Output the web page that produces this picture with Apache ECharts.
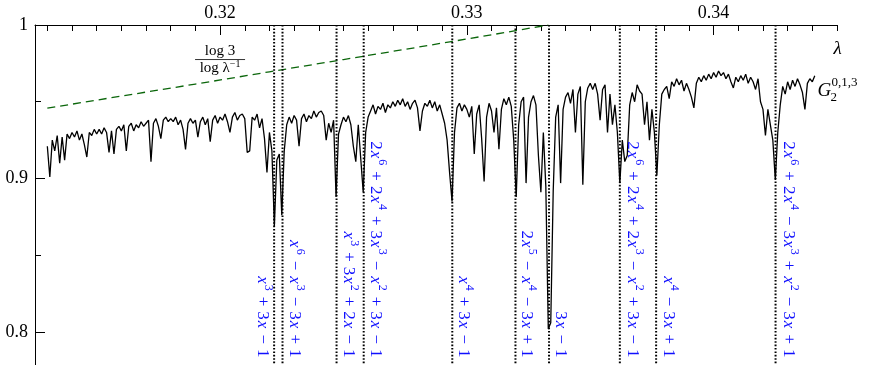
<!DOCTYPE html>
<html><head><meta charset="utf-8">
<script src="https://cdn.jsdelivr.net/npm/echarts@6/dist/echarts.min.js"></script>
<style>html,body{margin:0;padding:0;background:#fff}#c{width:870px;height:365px}</style>
</head><body><div id="c"></div>
<script>
// ---------- data ----------
const xMajorTicks = [0.32, 0.33, 0.34];
const xMinorTicks = [0.313,0.314,0.315,0.316,0.317,0.318,0.319,0.321,0.322,0.323,0.324,0.325,0.326,0.327,0.328,0.329,
  0.331,0.332,0.333,0.334,0.335,0.336,0.337,0.338,0.339,0.341,0.342,0.343,0.344,0.345];
const yMajorTicks = [0.8, 0.9, 1];
const yMinorTicks = [0.85, 0.95];

// dashed bound log3 / log(1/lambda)
const boundLambda = [0.313, 0.316, 0.319, 0.322, 0.325, 0.328, 0.331, 0.3333];
const boundValue  = [0.9458, 0.9537, 0.9615, 0.9695, 0.9775, 0.9855, 0.9936, 1.0];

// G_2^{0,1,3} curve [lambda, value]
const gData = [
[0.3130,0.921],[0.3131,0.901],[0.3132,0.925],[0.3133,0.918],[0.3134,0.928],[0.3135,0.910],[0.3136,0.927],[0.3137,0.912],[0.3138,0.929],[0.3139,0.926],[0.3140,0.930],
[0.3141,0.927],[0.3142,0.931],[0.3143,0.925],[0.3144,0.929],[0.3145,0.922],[0.3146,0.914],[0.3147,0.930],[0.3148,0.928],[0.3149,0.932],[0.3150,0.929],
[0.3151,0.932],[0.3152,0.929],[0.3153,0.933],[0.3154,0.930],[0.3155,0.917],[0.3156,0.931],[0.3157,0.916],[0.3158,0.932],[0.3159,0.934],[0.3160,0.931],
[0.3161,0.935],[0.3162,0.918],[0.3163,0.934],[0.3164,0.936],[0.3165,0.931],[0.3166,0.935],[0.3167,0.933],[0.3168,0.937],[0.3169,0.934],[0.3170,0.936],
[0.3171,0.938],[0.3172,0.911],[0.3173,0.936],[0.3174,0.939],[0.3175,0.934],[0.3176,0.926],[0.3177,0.938],[0.3178,0.940],[0.3179,0.937],[0.3180,0.939],
[0.3181,0.937],[0.3182,0.940],[0.3183,0.935],[0.3184,0.938],[0.3185,0.932],[0.3186,0.919],[0.3187,0.936],[0.3188,0.939],[0.3189,0.936],[0.3190,0.938],
[0.3191,0.927],[0.3192,0.937],[0.3193,0.940],[0.3194,0.935],[0.3195,0.939],[0.3196,0.924],[0.3197,0.938],[0.3198,0.941],[0.3199,0.936],[0.3200,0.940],
[0.3201,0.938],[0.3202,0.942],[0.3203,0.937],[0.3204,0.930],[0.3205,0.940],[0.3206,0.943],[0.3207,0.938],[0.3208,0.941],[0.3209,0.942],[0.3210,0.939],
[0.3211,0.917],[0.3212,0.918],[0.3213,0.940],[0.3214,0.938],[0.3215,0.942],[0.3216,0.933],[0.3217,0.939],[0.3218,0.926],[0.3219,0.904],[0.3220,0.930],
[0.3221,0.918],[0.3222,0.869],[0.3223,0.912],[0.3224,0.916],[0.3225,0.876],[0.3226,0.918],[0.3227,0.935],[0.3228,0.940],[0.3229,0.936],[0.3230,0.941],
[0.3231,0.938],[0.3232,0.921],[0.3233,0.939],[0.3234,0.942],[0.3235,0.937],[0.3236,0.941],[0.3237,0.939],[0.3238,0.944],[0.3239,0.940],[0.3240,0.943],
[0.3241,0.944],[0.3242,0.941],[0.3243,0.925],[0.3244,0.936],[0.3245,0.930],[0.3246,0.938],[0.3247,0.888],[0.3248,0.929],[0.3249,0.935],[0.3250,0.940],
[0.3251,0.937],[0.3252,0.941],[0.3253,0.935],[0.3254,0.921],[0.3255,0.911],[0.3256,0.935],[0.3257,0.913],[0.3258,0.891],[0.3259,0.930],[0.3260,0.940],
[0.3261,0.944],[0.3262,0.948],[0.3263,0.942],[0.3264,0.947],[0.3265,0.945],[0.3266,0.949],[0.3267,0.943],[0.3268,0.948],[0.3269,0.946],[0.3270,0.950],
[0.3271,0.947],[0.3272,0.951],[0.3273,0.948],[0.3274,0.952],[0.3275,0.947],[0.3276,0.950],[0.3277,0.945],[0.3278,0.949],[0.3279,0.951],[0.3280,0.946],
[0.3281,0.931],[0.3282,0.944],[0.3283,0.949],[0.3284,0.947],[0.3285,0.951],[0.3286,0.946],[0.3287,0.950],[0.3288,0.944],[0.3289,0.948],[0.3290,0.942],
[0.3291,0.936],[0.3292,0.925],[0.3293,0.904],[0.3294,0.885],[0.3295,0.930],[0.3296,0.946],[0.3297,0.949],[0.3298,0.944],[0.3299,0.948],[0.3300,0.945],
[0.3301,0.940],[0.3302,0.947],[0.3303,0.916],[0.3304,0.942],[0.3305,0.948],[0.3306,0.926],[0.3307,0.898],[0.3308,0.940],[0.3309,0.949],[0.3310,0.944],
[0.3311,0.930],[0.3312,0.946],[0.3313,0.919],[0.3314,0.945],[0.3315,0.952],[0.3316,0.948],[0.3317,0.953],[0.3318,0.947],[0.3319,0.925],[0.3320,0.888],
[0.3321,0.935],[0.3322,0.950],[0.3323,0.953],[0.3324,0.897],[0.3325,0.940],[0.3326,0.950],[0.3327,0.954],[0.3328,0.948],[0.3329,0.915],[0.3330,0.891],
[0.3331,0.930],[0.3332,0.895],[0.3333,0.802],[0.3334,0.806],[0.3335,0.892],[0.3336,0.940],[0.3337,0.948],[0.3338,0.897],[0.3339,0.945],[0.3340,0.953],
[0.3341,0.956],[0.3342,0.949],[0.3343,0.958],[0.3344,0.930],[0.3345,0.955],[0.3346,0.960],[0.3347,0.896],[0.3348,0.950],[0.3349,0.959],[0.3350,0.962],
[0.3351,0.958],[0.3352,0.962],[0.3353,0.955],[0.3354,0.938],[0.3355,0.958],[0.3356,0.961],[0.3357,0.930],[0.3358,0.955],[0.3359,0.935],[0.3360,0.948],
[0.3361,0.930],[0.3362,0.897],[0.3363,0.925],[0.3364,0.911],[0.3365,0.915],[0.3366,0.948],[0.3367,0.956],[0.3368,0.950],[0.3369,0.961],[0.3370,0.957],
[0.3371,0.955],[0.3372,0.935],[0.3373,0.950],[0.3374,0.925],[0.3375,0.945],[0.3376,0.930],[0.3377,0.902],[0.3378,0.935],[0.3379,0.955],[0.3380,0.958],
[0.3381,0.960],[0.3382,0.952],[0.3383,0.963],[0.3384,0.960],[0.3385,0.965],[0.3386,0.961],[0.3387,0.964],[0.3388,0.957],[0.3389,0.962],[0.3390,0.958],
[0.3391,0.953],[0.3392,0.946],[0.3393,0.962],[0.3394,0.966],[0.3395,0.963],[0.3396,0.967],[0.3397,0.964],[0.3398,0.968],[0.3399,0.965],[0.3400,0.969],
[0.3401,0.966],[0.3402,0.970],[0.3403,0.967],[0.3404,0.969],[0.3405,0.965],[0.3406,0.968],[0.3407,0.963],[0.3408,0.959],[0.3409,0.966],[0.3410,0.963],
[0.3411,0.967],[0.3412,0.964],[0.3413,0.968],[0.3414,0.962],[0.3415,0.966],[0.3416,0.963],[0.3417,0.958],[0.3418,0.965],[0.3419,0.950],[0.3420,0.945],
[0.3421,0.928],[0.3422,0.945],[0.3423,0.935],[0.3424,0.925],[0.3425,0.899],[0.3426,0.930],[0.3427,0.948],[0.3428,0.960],[0.3429,0.955],[0.3430,0.963],
[0.3431,0.958],[0.3432,0.964],[0.3433,0.960],[0.3434,0.965],[0.3435,0.961],[0.3436,0.956],[0.3437,0.945],[0.3438,0.962],[0.3439,0.965],[0.3440,0.963],[0.3441,0.967]
];

// roots marked by dotted lines, and their polynomials
const polyLambdas = [0.32219, 0.32253, 0.32472, 0.32582, 0.32941, 0.33197, 0.33333, 0.33620, 0.33767, 0.34251];
const polyLabels = [
  'x^3+3x-1',
  'x^6-x^3-3x+1',
  'x^3+3x^2+2x-1',
  '2x^6+2x^4+3x^3-x^2+3x-1',
  'x^4+3x-1',
  '2x^5-x^4-3x+1',
  '3x-1',
  '2x^6+2x^4+2x^3-x^2+3x-1',
  'x^4-3x+1',
  '2x^6+2x^4-3x^3+x^2-3x+1'
];
const fracNumerator = 'log 3';
const fracDenominator = 'log λ';
const fracDenominatorSup = '−1';
const axisSymbol = 'λ';
const curveName = 'G', curveSup = '0,1,3', curveSub = '2';

// ---------- styling / layout ----------
const SERIF = "'Liberation Serif','DejaVu Serif',serif";
const LABEL_COLOR = '#1010ff';
const Y_MIN = 0.7785, Y_MAX = 1;
const LABEL_V = 0.7834;
const labelDx = [-12, 12, 12, 12, 11, 11, 11, 13, 12, 13];
const FRAC_AT = [0.3200, 0.9775];
const LAMBDA_AT = [0.34502, 0.9844];
const G_AT = [0.34449, 0.957];

function toRich(s) {
  return s.replace(/\^(\d)/g, '\u0001$1\u0002')
          .replace(/x/g, '{i|x}')
          .replace(/\u0001(\d)\u0002/g, '{s|$1}')
          .replace(/\+/g, '{o|+}')
          .replace(/-/g, '{o|\u2212}');
}

const chart = echarts.init(document.getElementById('c'), null, {renderer: 'canvas'});

const axisCommon = {
  type: 'value', min: 0.3125, max: 0.345, position: 'top', splitLine: {show: false}, splitArea: {show: false}
};
const option = {
  animation: false,
  backgroundColor: '#fff',
  grid: {left: 35, right: 33, top: 25, bottom: 0, containLabel: false, outerBoundsMode: 'none'},
  xAxis: [
    Object.assign({}, axisCommon, {
      axisLine: {show: true, onZero: false, lineStyle: {color: '#000', width: 1}},
      axisTick: {show: true, inside: true, length: 10, customValues: xMajorTicks, lineStyle: {color: '#000', width: 1}},
      axisLabel: {show: true, customValues: xMajorTicks, margin: 3, color: '#000', fontFamily: SERIF, fontSize: 18,
        formatter: v => v.toFixed(2)}
    }),
    Object.assign({}, axisCommon, {
      axisLine: {show: false},
      axisTick: {show: true, inside: true, length: 6, customValues: xMinorTicks, lineStyle: {color: '#000', width: 1}},
      axisLabel: {show: false}
    })
  ],
  yAxis: [
    {type: 'value', min: Y_MIN, max: Y_MAX, position: 'left', splitLine: {show: false},
      axisLine: {show: true, onZero: false, lineStyle: {color: '#000', width: 1}},
      axisTick: {show: true, inside: true, length: 10, customValues: yMajorTicks, lineStyle: {color: '#000', width: 1}},
      axisLabel: {show: true, customValues: yMajorTicks, margin: 7, color: '#000', fontFamily: SERIF, fontSize: 18,
        formatter: v => (Math.abs(v - 1) < 1e-9 ? '1' : v.toFixed(1))}
    },
    {type: 'value', min: Y_MIN, max: Y_MAX, position: 'left', splitLine: {show: false},
      axisLine: {show: false},
      axisTick: {show: true, inside: true, length: 6, customValues: yMinorTicks, lineStyle: {color: '#000', width: 1}},
      axisLabel: {show: false}
    }
  ],
  series: [
    {
      type: 'line', name: 'bound', xAxisIndex: 0, yAxisIndex: 0,
      data: boundLambda.map((l, i) => [l, boundValue[i]]),
      showSymbol: false, symbol: 'none', silent: true,
      lineStyle: {color: '#0b660b', width: 1.3, type: [8, 5]}, z: 2
    },
    {
      type: 'line', name: 'G', xAxisIndex: 0, yAxisIndex: 0,
      data: gData, showSymbol: false, symbol: 'none', silent: true,
      lineStyle: {color: '#000', width: 1.3}, z: 3
    },
    {
      type: 'custom', name: 'roots', xAxisIndex: 0, yAxisIndex: 0, silent: true, z: 5,
      data: polyLambdas.map(l => [l, LABEL_V]),
      renderItem: function (params, api) {
        const i = params.dataIndex;
        const lam = api.value(0);
        const p = api.coord([lam, api.value(1)]);
        const top = api.coord([lam, Y_MAX]);
        const bot = api.coord([lam, Y_MIN]);
        return {
          type: 'group', children: [
            {type: 'line', shape: {x1: top[0], y1: top[1], x2: bot[0], y2: bot[1]},
              style: {stroke: '#000', lineWidth: 2, lineDash: [1.6, 1.8]}},
            {type: 'text', x: p[0] + labelDx[i], y: p[1], rotation: -Math.PI / 2,
              style: {
                text: toRich(polyLabels[i]), fill: LABEL_COLOR, fontFamily: SERIF, fontSize: 17,
                lineHeight: 24, align: 'right', verticalAlign: 'middle',
                rich: {
                  i: {fontFamily: SERIF, fontSize: 17, fontStyle: 'italic', fill: LABEL_COLOR, lineHeight: 24, padding: [0, 1, 0, 1]},
                  s: {fontFamily: SERIF, fontSize: 12, fill: LABEL_COLOR, verticalAlign: 'top', lineHeight: 14, padding: [0, 1, 0, 0]},
                  o: {fontFamily: SERIF, fontSize: 17, fill: LABEL_COLOR, lineHeight: 24, padding: [0, 5, 0, 5]}
                }
              }}
          ]
        };
      }
    },
    {
      type: 'custom', name: 'annotations', xAxisIndex: 0, yAxisIndex: 0, silent: true, z: 6,
      data: [[FRAC_AT[0], FRAC_AT[1]]],
      renderItem: function (params, api) {
        const f = api.coord(FRAC_AT);
        const l = api.coord(LAMBDA_AT);
        const g = api.coord(G_AT);
        return {
          type: 'group', children: [
            {type: 'text', x: f[0], y: f[1] - 8, style: {text: fracNumerator, fill: '#000', fontFamily: SERIF, fontSize: 15, align: 'center', verticalAlign: 'middle'}},
            {type: 'line', shape: {x1: f[0] - 25, y1: f[1], x2: f[0] + 25, y2: f[1]}, style: {stroke: '#000', lineWidth: 0.8}},
            {type: 'text', x: f[0], y: f[1] + 9, style: {
              text: fracDenominator + '{s|' + fracDenominatorSup + '}', fill: '#000', fontFamily: SERIF, fontSize: 15,
              lineHeight: 18, align: 'center', verticalAlign: 'middle',
              rich: {s: {fontFamily: SERIF, fontSize: 10, fill: '#000', verticalAlign: 'top', lineHeight: 11}}}},
            {type: 'text', x: l[0], y: l[1], style: {text: axisSymbol, fill: '#000', fontFamily: SERIF, fontSize: 19, fontStyle: 'italic', align: 'center', verticalAlign: 'middle'}},
            {type: 'text', x: g[0], y: g[1], style: {text: curveName, fill: '#000', fontFamily: SERIF, fontSize: 19, fontStyle: 'italic', align: 'center', verticalAlign: 'middle'}},
            {type: 'text', x: g[0] + 7, y: g[1] - 8, style: {text: curveSup, fill: '#000', fontFamily: SERIF, fontSize: 13, align: 'left', verticalAlign: 'middle'}},
            {type: 'text', x: g[0] + 6, y: g[1] + 7, style: {text: curveSub, fill: '#000', fontFamily: SERIF, fontSize: 13, align: 'left', verticalAlign: 'middle'}}
          ]
        };
      }
    }
  ]
};
chart.setOption(option);
</script>
</body></html>
